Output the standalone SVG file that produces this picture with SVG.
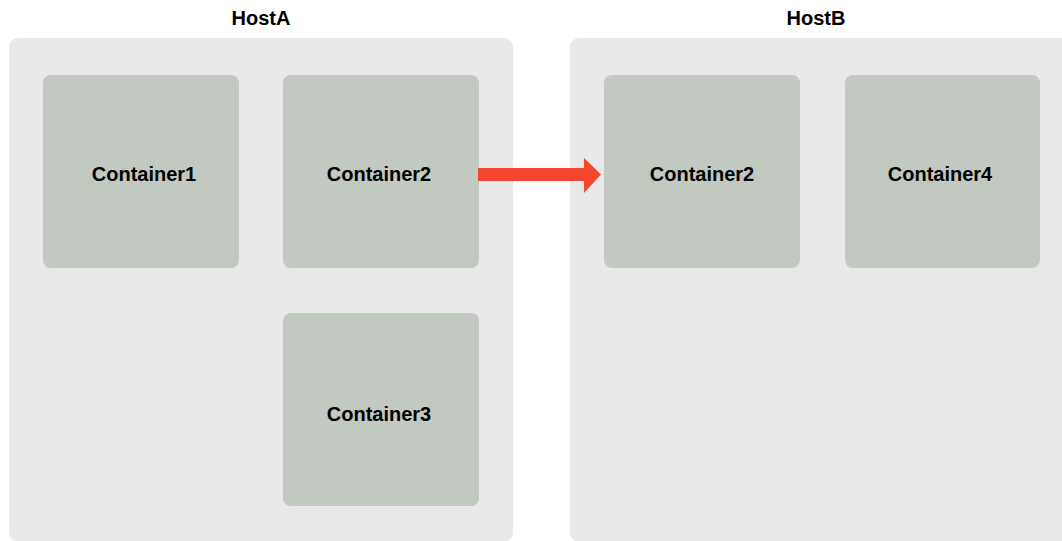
<svg xmlns="http://www.w3.org/2000/svg" width="1062" height="541" viewBox="0 0 1062 541">
<style>
.host{fill:#e9e9e9}
.cont{fill:#c2c9c0}
text{font-family:"Liberation Sans",Arial,sans-serif;font-weight:bold;font-size:20px;fill:#000;text-anchor:middle}
</style>
<rect width="1062" height="541" fill="#fff"/>
<g id="hostA">
<rect class="host" x="9" y="38" width="504" height="504" rx="9"/>
<text x="261" y="25">HostA</text>
</g>
<g id="hostB">
<rect class="host" x="570" y="38" width="510" height="504" rx="9"/>
<text x="816" y="25">HostB</text>
</g>
<g id="containerA1">
<rect class="cont" x="43" y="75" width="196" height="193" rx="8"/>
<text x="144" y="181">Container1</text>
</g>
<g id="containerA2">
<rect class="cont" x="283" y="75" width="196" height="193" rx="8"/>
<text x="379" y="181">Container2</text>
</g>
<g id="containerA3">
<rect class="cont" x="283" y="313" width="196" height="193" rx="8"/>
<text x="379" y="421">Container3</text>
</g>
<g id="containerB2">
<rect class="cont" x="604" y="75" width="196" height="193" rx="8"/>
<text x="702" y="181">Container2</text>
</g>
<g id="containerB4">
<rect class="cont" x="845" y="75" width="195" height="193" rx="8"/>
<text x="940" y="181">Container4</text>
</g>
<g id="connectors">
<path d="M478 168 H584 V158 L601 174.5 L584 193 V181 H478 Z" fill="#f2472e"/>
</g>
</svg>
